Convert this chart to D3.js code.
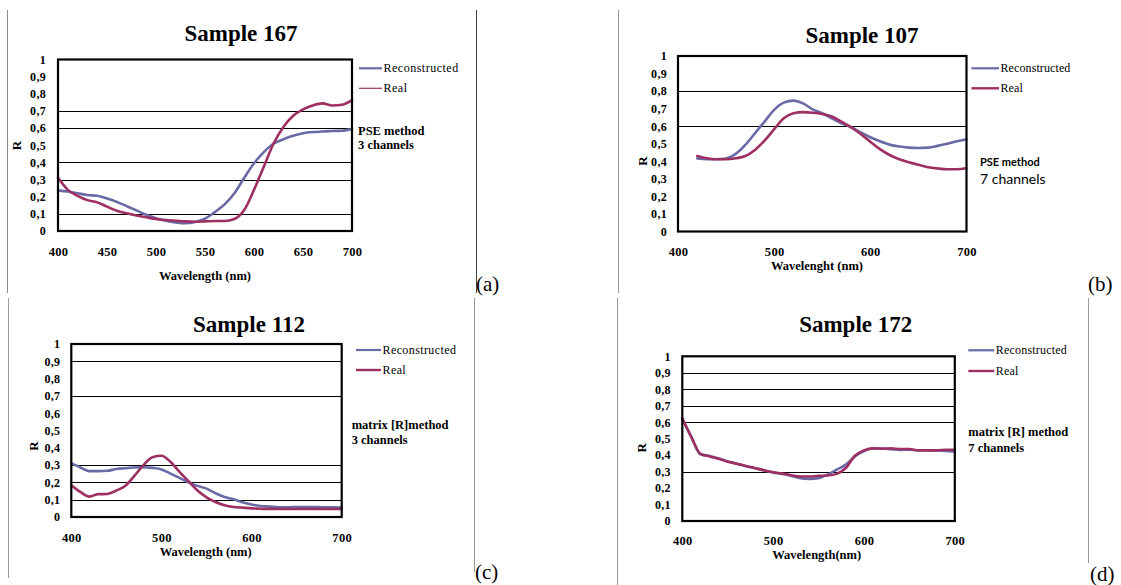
<!DOCTYPE html>
<html>
<head>
<meta charset="utf-8">
<script src="https://cdn.jsdelivr.net/npm/d3@7"></script>
<style>
  html, body { margin: 0; padding: 0; background: #fff; }
  svg { display: block; font-family: "Liberation Serif", serif; }
</style>
</head>
<body>
<svg id="fig" width="1121" height="585"></svg>
<script>
// Wavelength sampling (nm)
const wavelengths = [400, 410, 420, 430, 440, 450, 460, 470, 480, 490, 500, 510, 520, 530, 540, 550,
  560, 570, 580, 590, 600, 610, 620, 630, 640, 650, 660, 670, 680, 690, 700];
const wavelengthsFrom420 = [420, 430, 440, 450, 460, 470, 480, 490, 500, 510, 520, 530, 540, 550,
  560, 570, 580, 590, 600, 610, 620, 630, 640, 650, 660, 670, 680, 690, 700];

// Sample 167 — PSE method, 3 channels
const s167Reconstructed = [0.237, 0.23, 0.22, 0.21, 0.205, 0.19, 0.17, 0.145, 0.12, 0.095, 0.075, 0.06, 0.05, 0.045, 0.052, 0.072,
  0.11, 0.155, 0.22, 0.31, 0.395, 0.46, 0.51, 0.535, 0.555, 0.57, 0.577, 0.58, 0.583, 0.585, 0.594];
const s167Real = [0.31, 0.24, 0.205, 0.18, 0.167, 0.142, 0.118, 0.103, 0.09, 0.08, 0.07, 0.064, 0.06, 0.056, 0.054, 0.056,
  0.058, 0.058, 0.07, 0.122, 0.24, 0.375, 0.51, 0.607, 0.672, 0.709, 0.732, 0.744, 0.732, 0.736, 0.763];

// Sample 107 — PSE method, 7 channels
const s107Reconstructed = [0.416, 0.412, 0.412, 0.416, 0.442, 0.493, 0.56, 0.626, 0.693, 0.734, 0.746, 0.73, 0.696, 0.674,
  0.645, 0.617, 0.594, 0.565, 0.537, 0.514, 0.495, 0.484, 0.478, 0.476, 0.478, 0.488, 0.5, 0.514, 0.526];
const s107Real = [0.43, 0.417, 0.412, 0.412, 0.417, 0.43, 0.465, 0.518, 0.583, 0.645, 0.674, 0.68, 0.677, 0.67,
  0.655, 0.626, 0.594, 0.556, 0.512, 0.469, 0.436, 0.412, 0.395, 0.38, 0.366, 0.359, 0.355, 0.355, 0.36];

// Sample 112 — matrix [R] method, 3 channels
const s112Reconstructed = [0.311, 0.286, 0.265, 0.265, 0.267, 0.277, 0.282, 0.286, 0.288, 0.284, 0.275, 0.251, 0.226, 0.2, 0.18, 0.164,
  0.137, 0.116, 0.103, 0.085, 0.072, 0.064, 0.06, 0.056, 0.056, 0.058, 0.058, 0.058, 0.056, 0.056, 0.054];
const s112Real = [0.184, 0.145, 0.118, 0.132, 0.133, 0.153, 0.18, 0.238, 0.3, 0.346, 0.354, 0.319, 0.261, 0.207, 0.153, 0.114,
  0.087, 0.068, 0.058, 0.054, 0.05, 0.048, 0.046, 0.046, 0.046, 0.046, 0.046, 0.046, 0.046, 0.046, 0.046];

// Sample 172 — matrix [R] method, 7 channels
const s172Reconstructed = [0.62, 0.51, 0.405, 0.395, 0.38, 0.362, 0.348, 0.333, 0.32, 0.307, 0.295, 0.285, 0.274, 0.26, 0.256, 0.26,
  0.282, 0.312, 0.342, 0.392, 0.425, 0.44, 0.44, 0.436, 0.432, 0.433, 0.43, 0.43, 0.428, 0.425, 0.42];
const s172Real = [0.624, 0.509, 0.408, 0.392, 0.378, 0.36, 0.348, 0.334, 0.322, 0.308, 0.296, 0.288, 0.278, 0.27, 0.27, 0.274,
  0.276, 0.286, 0.322, 0.396, 0.429, 0.441, 0.439, 0.441, 0.437, 0.437, 0.429, 0.429, 0.429, 0.433, 0.433];

// Axis ticks and labels
const yTicks = [0, 0.1, 0.2, 0.3, 0.4, 0.5, 0.6, 0.7, 0.8, 0.9, 1];
const yTickLabels = ["0", "0,1", "0,2", "0,3", "0,4", "0,5", "0,6", "0,7", "0,8", "0,9", "1"];
const xTicksFine = [400, 450, 500, 550, 600, 650, 700];
const xTicksCoarse = [400, 500, 600, 700];

// Horizontal gridlines drawn in each panel
const gridA = [0.1, 0.3, 0.4, 0.6, 0.7];
const gridB = [0.6, 0.8];
const gridC = [0.1, 0.2, 0.3, 0.7, 0.9];
const gridD = [0.3, 0.6, 0.7, 0.8, 0.9];

const seriesNames = ["Reconstructed", "Real"];
const colorReconstructed = "#6a6aa6";
const colorReal = "#9e2f62";

const serifFont = "'Liberation Serif', serif";
const sansFont = "Lato, 'Open Sans', sans-serif";

const svg = d3.select("#fig");
svg.append("rect").attr("width", 1121).attr("height", 585).attr("fill", "#fff");

// Separator rules between the panels
const rules = [
  { x: 7.5, y1: 10, y2: 293, c: "#8a8a8a" },
  { x: 476.5, y1: 10, y2: 293, c: "#444" },
  { x: 618.5, y1: 10, y2: 293, c: "#9a9a9a" },
  { x: 8.5, y1: 298, y2: 578, c: "#9a9a9a" },
  { x: 474.5, y1: 298, y2: 572, c: "#9a9a9a" },
  { x: 617.5, y1: 298, y2: 585, c: "#9a9a9a" },
  { x: 1088.5, y1: 298, y2: 563, c: "#9a9a9a" }
];
svg.selectAll("line.rule").data(rules).join("line")
  .attr("class", "rule")
  .attr("x1", d => d.x).attr("x2", d => d.x)
  .attr("y1", d => d.y1).attr("y2", d => d.y2)
  .attr("stroke", d => d.c).attr("stroke-width", 1);

function serif(sel) { return sel.style("font-family", serifFont); }

function drawPanel(p) {
  const x = d3.scaleLinear().domain([400, 700]).range([p.box.x0, p.box.x1]);
  const y = d3.scaleLinear().domain([0, 1]).range([p.box.y1, p.box.y0]);
  const g = svg.append("g");

  // title
  g.append("text").call(serif)
    .attr("x", p.title.x).attr("y", p.title.y)
    .attr("text-anchor", "middle")
    .attr("font-size", 23).attr("font-weight", "bold")
    .text(p.titleText);

  // gridlines
  g.selectAll("line.grid").data(p.grid).join("line")
    .attr("x1", p.box.x0).attr("x2", p.box.x1)
    .attr("y1", d => Math.round(y(d)) + 0.5).attr("y2", d => Math.round(y(d)) + 0.5)
    .attr("stroke", "#000").attr("stroke-width", 1);

  // y axis labels
  const yAxis = d3.axisLeft(y).tickValues(yTicks)
    .tickFormat((d, i) => yTickLabels[i]).tickSize(0).tickPadding(p.yPad);
  const ya = g.append("g").attr("transform", `translate(${p.box.x0},0)`).call(yAxis);
  ya.select(".domain").remove();
  ya.selectAll("text").call(serif).attr("font-size", 12).attr("font-weight", "bold")
    .attr("fill", "#000").style("letter-spacing", "0.3px");

  // x axis labels
  const xAxis = d3.axisBottom(x).tickValues(p.xTicks).tickSize(0).tickPadding(0).tickFormat(d3.format("d"));
  const xa = g.append("g").attr("transform", `translate(0,${p.xLabelY})`).call(xAxis);
  xa.select(".domain").remove();
  xa.selectAll("text").call(serif).attr("font-size", 12.5).attr("font-weight", "bold")
    .attr("fill", "#000").attr("dy", "0.35em").attr("y", 0).style("letter-spacing", "0.3px");

  // axis titles
  g.append("text").call(serif)
    .attr("transform", `translate(${p.rLabel.x},${p.rLabel.y}) rotate(-90)`)
    .attr("text-anchor", "middle").attr("dy", "0.35em")
    .attr("font-size", 13).attr("font-weight", "bold").text("R");
  g.append("text").call(serif)
    .attr("x", p.xTitle.x).attr("y", p.xTitle.y).attr("dy", "0.35em")
    .attr("text-anchor", "middle").attr("font-size", 12.5).attr("font-weight", "bold")
    .text(p.xTitleText);

  // curves
  const line = d3.line().x(d => x(d[0])).y(d => y(d[1])).curve(d3.curveMonotoneX);
  const series = [
    { values: d3.zip(p.wl, p.reconstructed), color: colorReconstructed },
    { values: d3.zip(p.wl, p.real), color: colorReal }
  ];
  g.selectAll("path.curve").data(series).join("path")
    .attr("d", d => line(d.values))
    .attr("fill", "none").attr("stroke", d => d.color)
    .attr("stroke-width", 2.6).attr("stroke-linejoin", "round").attr("stroke-linecap", "round");

  // plot frame
  g.append("rect")
    .attr("x", p.box.x0).attr("y", p.box.y0)
    .attr("width", p.box.x1 - p.box.x0).attr("height", p.box.y1 - p.box.y0)
    .attr("fill", "none").attr("stroke", "#000").attr("stroke-width", 2.2);

  // legend
  const legend = g.selectAll("g.leg").data(seriesNames).join("g")
    .attr("transform", (d, i) => `translate(0,${p.legend.ys[i]})`);
  legend.append("line")
    .attr("x1", p.legend.x0).attr("x2", p.legend.x1)
    .attr("stroke", (d, i) => i === 0 ? colorReconstructed : colorReal)
    .attr("stroke-width", (d, i) => p.legend.widths[i]);
  legend.append("text").call(serif)
    .attr("x", p.legend.x1 + 1.5).attr("dy", "0.33em")
    .attr("font-size", 12).style("letter-spacing", p.legend.spacing)
    .text(d => d);

  // method note
  g.selectAll("text.note").data(p.note.lines).join("text")
    .attr("class", "note")
    .attr("x", p.note.x).attr("y", (d, i) => p.note.ys[i])
    .style("font-family", (d, i) => p.note.fonts[i])
    .attr("font-size", (d, i) => p.note.sizes[i])
    .attr("font-weight", (d, i) => p.note.weights[i])
    .text(d => d);

  // panel letter
  g.append("text").call(serif)
    .attr("x", p.letter.x).attr("y", p.letter.y)
    .attr("font-size", 21).text(p.letterText);
}

drawPanel({
  titleText: "Sample 167", title: { x: 241, y: 41 },
  box: { x0: 58, x1: 352, y0: 59.5, y1: 231 },
  grid: gridA, xTicks: xTicksFine, yPad: 12,
  xLabelY: 252, rLabel: { x: 16.5, y: 145.5 },
  xTitle: { x: 205, y: 276 }, xTitleText: "Wavelength (nm)",
  wl: wavelengths, reconstructed: s167Reconstructed, real: s167Real,
  legend: { x0: 359, x1: 382, ys: [68.3, 88.3], widths: [2.2, 1.2], spacing: "0.5px" },
  note: { x: 358, ys: [134.5, 148.5], lines: ["PSE method", "3 channels"],
    fonts: [serifFont, serifFont], sizes: [12.5, 12.5], weights: ["bold", "bold"] },
  letterText: "(a)", letter: { x: 476, y: 291 }
});

drawPanel({
  titleText: "Sample 107", title: { x: 862, y: 43 },
  box: { x0: 678, x1: 966.5, y0: 56, y1: 231.5 },
  grid: gridB, xTicks: xTicksCoarse, yPad: 11,
  xLabelY: 252, rLabel: { x: 642.5, y: 161 },
  xTitle: { x: 817, y: 266 }, xTitleText: "Wavelenght (nm)",
  wl: wavelengthsFrom420, reconstructed: s107Reconstructed, real: s107Real,
  legend: { x0: 971.5, x1: 999, ys: [68.3, 88.3], widths: [2.2, 2.4], spacing: "0.1px" },
  note: { x: 980, ys: [165.7, 183.5], lines: ["PSE method", "7 channels"],
    fonts: [sansFont, sansFont], sizes: [11, 14], weights: ["bold", "normal"] },
  letterText: "(b)", letter: { x: 1088, y: 291 }
});

drawPanel({
  titleText: "Sample 112", title: { x: 249, y: 331.5 },
  box: { x0: 71.3, x1: 341.7, y0: 344, y1: 517 },
  grid: gridC, xTicks: xTicksCoarse, yPad: 11,
  xLabelY: 537.5, rLabel: { x: 33.3, y: 446 },
  xTitle: { x: 205.7, y: 551.7 }, xTitleText: "Wavelength (nm)",
  wl: wavelengths, reconstructed: s112Reconstructed, real: s112Real,
  legend: { x0: 356, x1: 381, ys: [350, 370], widths: [2.2, 2.4], spacing: "0.4px" },
  note: { x: 351.7, ys: [429.3, 444.3], lines: ["matrix [R]method", "3 channels"],
    fonts: [serifFont, serifFont], sizes: [12.5, 12.5], weights: ["bold", "bold"] },
  letterText: "(c)", letter: { x: 475, y: 579 }
});

drawPanel({
  titleText: "Sample 172", title: { x: 855.7, y: 331.5 },
  box: { x0: 682.3, x1: 954.8, y0: 356.3, y1: 521 },
  grid: gridD, xTicks: xTicksCoarse, yPad: 11.5,
  xLabelY: 540.7, rLabel: { x: 641.7, y: 447.7 },
  xTitle: { x: 816.7, y: 554.3 }, xTitleText: "Wavelength(nm)",
  wl: wavelengths, reconstructed: s172Reconstructed, real: s172Real,
  legend: { x0: 968.3, x1: 994.3, ys: [350.3, 371], widths: [2.2, 2.4], spacing: "0.2px" },
  note: { x: 968.3, ys: [435.7, 451.7], lines: ["matrix [R] method", "7 channels"],
    fonts: [serifFont, serifFont], sizes: [12.5, 12.5], weights: ["bold", "bold"] },
  letterText: "(d)", letter: { x: 1090, y: 581 }
});
</script>
</body>
</html>
